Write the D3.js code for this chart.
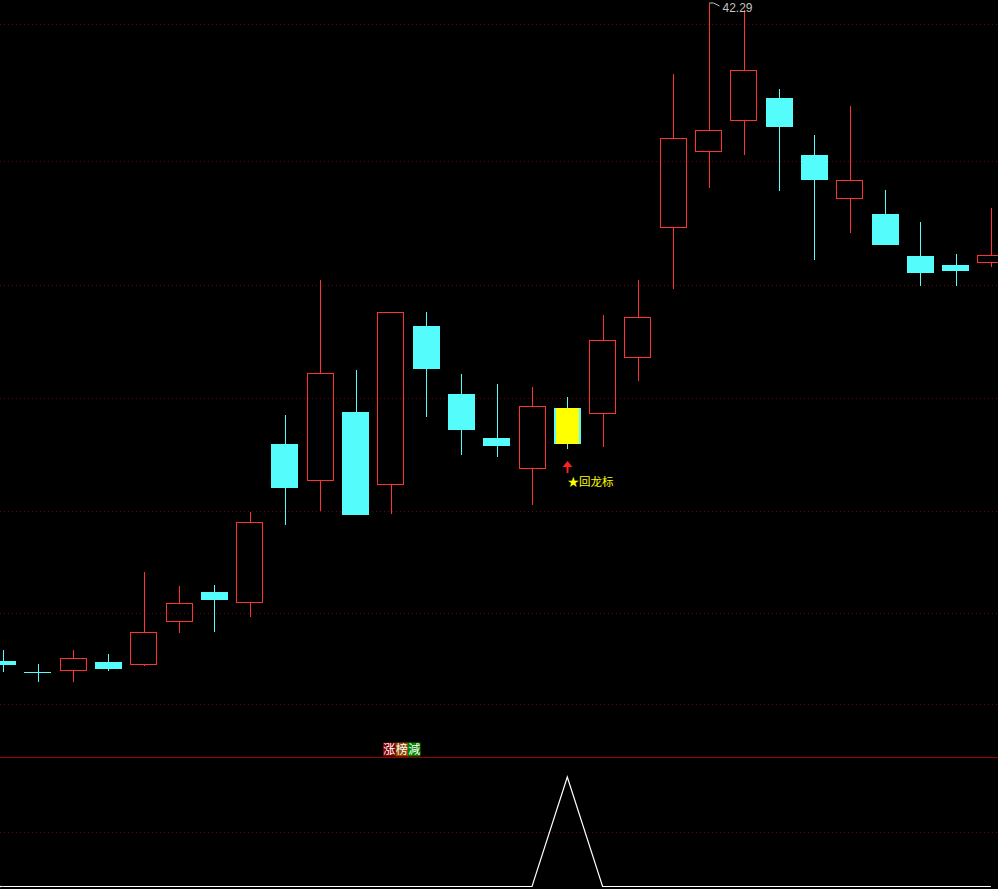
<!DOCTYPE html>
<html><head><meta charset="utf-8">
<script src="https://cdn.jsdelivr.net/npm/d3@7/dist/d3.min.js"></script>
<style>html,body{margin:0;padding:0;background:#000;overflow:hidden}svg{display:block}</style>
</head><body>
<script>
// ---- data ----
const days = d3.range(29).map(i => "D" + (i + 1));
const opens  = [24.88,24.60,24.64,24.85,24.80,25.94,26.70,26.44,30.62,29.67,31.47,29.56,33.74,31.94,30.78,29.99,31.57,31.44,32.92,36.36,38.37,39.19,39.78,38.27,37.13,36.71,35.60,35.36,35.44];
const highs  = [25.17,24.80,25.17,25.06,27.23,26.86,26.89,28.82,31.39,34.96,32.58,34.11,34.11,32.47,32.21,32.13,31.86,34.03,34.96,40.41,42.29,42.10,40.01,38.80,39.56,37.34,36.50,35.65,36.87];
const lows   = [24.59,24.32,24.32,24.61,24.75,25.62,25.65,26.04,28.48,28.85,28.77,28.77,31.34,30.33,30.28,29.01,30.49,30.54,32.29,34.72,37.39,38.27,37.32,35.49,36.20,35.89,34.80,34.80,35.30];
const closes = [24.80,24.59,24.96,24.69,25.65,26.41,26.52,28.56,29.48,32.50,28.77,34.11,32.63,31.02,30.59,31.63,30.65,33.37,33.98,38.72,38.93,40.52,39.03,37.63,37.61,35.91,35.17,35.23,35.62];
const signal = [0,0,0,0,0,0,0,0,0,0,0,0,0,0,0,0,1,0,0,0,0,0,0,0,0,0,0,0,0];
const gridPrices = [23.74,26.15,28.85,31.84,34.83,38.11,41.73];
const indGrid = [0.5];
const markIndex = 16;
const markText = "★回龙标";
const highLabel = "42.29";
const titleChars = ["涨","榜","減"];

// ---- layout ----
const W = 998, H = 889;
const UP = "#ff3232", DOWN = "#54fcfc", GRID = "#740000";
const svg = d3.select("body").append("svg").attr("width", W).attr("height", H);
svg.append("rect").attr("width", W).attr("height", H).attr("fill", "#000");

const x = d3.scalePoint().domain(days).range([2.5, 990.9]);
const y = d3.scaleLinear().domain([22.339, 42.369]).range([757, 0]);
const yi = d3.scaleLinear().domain([0, 1]).range([886.5, 777]);
const bw = 27;

// grid lines main
svg.append("g").attr("shape-rendering", "crispEdges").selectAll("line").data(gridPrices).join("line")
  .attr("x1", 0).attr("x2", W)
  .attr("y1", d => Math.round(y(d)) + 0.5).attr("y2", d => Math.round(y(d)) + 0.5)
  .attr("stroke", GRID).attr("stroke-dasharray", "1,3");

// separator
svg.append("line").attr("shape-rendering", "crispEdges").attr("x1", 0).attr("x2", W).attr("y1", 757.5).attr("y2", 757.5)
  .attr("stroke", "#a00000");

// indicator grid
svg.append("g").attr("shape-rendering", "crispEdges").selectAll("line").data(indGrid).join("line")
  .attr("x1", 0).attr("x2", W)
  .attr("y1", d => Math.round(yi(d)) + 0.5).attr("y2", d => Math.round(yi(d)) + 0.5)
  .attr("stroke", GRID).attr("stroke-dasharray", "1,3");

// candles
const data = days.map((d, i) => ({d, i, o: opens[i], h: highs[i], l: lows[i], c: closes[i]}));
const cg = svg.append("g").attr("shape-rendering", "crispEdges");
data.forEach(k => {
  const up = k.c > k.o;
  const col = up ? UP : DOWN;
  const cx = Math.round(x(k.d)) + 0.5;
  const yt = Math.round(y(Math.max(k.o, k.c)));
  const yb = Math.round(y(Math.min(k.o, k.c)));
  const yh = Math.round(y(k.h));
  const yl = Math.round(y(k.l));
  const x0 = Math.round(x(k.d) - bw / 2);
  if (up) {
    cg.append("line").attr("x1", cx).attr("x2", cx).attr("y1", yh).attr("y2", yt).attr("stroke", col);
    cg.append("line").attr("x1", cx).attr("x2", cx).attr("y1", yb).attr("y2", yl).attr("stroke", col);
    cg.append("rect").attr("x", x0 + 0.5).attr("y", yt + 0.5).attr("width", bw - 1).attr("height", Math.max(1, yb - yt))
      .attr("fill", "none").attr("stroke", col);
  } else {
    cg.append("line").attr("x1", cx).attr("x2", cx).attr("y1", yh).attr("y2", yl).attr("stroke", col);
    cg.append("rect").attr("x", x0).attr("y", yt).attr("width", bw).attr("height", Math.max(1, yb - yt + 1))
      .attr("fill", col);
    if (k.i === markIndex) {
      cg.append("rect").attr("x", x0 + 2).attr("y", yt).attr("width", bw - 4).attr("height", Math.max(1, yb - yt + 1))
        .attr("fill", "#ffff00");
    }
  }
});

// high label
const hi = d3.maxIndex(highs);
const hx = Math.round(x(days[hi])) + 0.5, hy = Math.round(y(highs[hi]));
svg.append("polyline").attr("points", `${hx},${hy} ${hx+4},${hy} ${hx+10},${hy+3}`)
  .attr("fill", "none").attr("stroke", "#c0c0c0");
svg.append("text").attr("x", hx + 13).attr("y", hy + 9).attr("fill", "#c0c0c0")
  .attr("font-family", "Liberation Sans, Arial, sans-serif").attr("font-size", 12).text(highLabel);

// mark arrow + text
const mx = Math.round(x(days[markIndex])) + 0.5;
const my = Math.round(y(lows[markIndex])) + 12;
svg.append("path").attr("d", `M${mx},${my} L${mx+5},${my+6} L${mx+1},${my+6} L${mx+1},${my+12} L${mx-1},${my+12} L${mx-1},${my+6} L${mx-5},${my+6} Z`)
  .attr("fill", "#ff2020");
svg.append("text").attr("x", mx).attr("y", my + 25).attr("fill", "#ffff00")
  .attr("font-family", "Noto Sans CJK SC, sans-serif").attr("font-size", 11.5).text(markText);

// indicator line
const line = d3.line().x((d, i) => x(days[i])).y(d => yi(d));
svg.append("path").datum(signal).attr("d", line).attr("fill", "none").attr("stroke", "#ffffff").attr("stroke-width", 1.2);
svg.append("line").attr("x1", 0).attr("x2", x(days[0])).attr("y1", yi(0)).attr("y2", yi(0)).attr("stroke", "#fff").attr("stroke-width", 1.2);

// indicator title
const titleCols = ["#800000", "#8a4a00", "#008000"];
const tg = svg.append("g");
titleChars.forEach((ch, i) => {
  tg.append("rect").attr("x", 383 + i * 12.5).attr("y", 742.5).attr("width", 12.5).attr("height", 14).attr("fill", titleCols[i]);
  tg.append("text").attr("x", 383 + i * 12.5 + 6.25).attr("y", 754).attr("text-anchor", "middle")
    .attr("fill", "#ffffff").attr("font-family", "Noto Sans CJK SC, sans-serif").attr("font-size", 12).text(ch);
});
</script>
</body></html>
